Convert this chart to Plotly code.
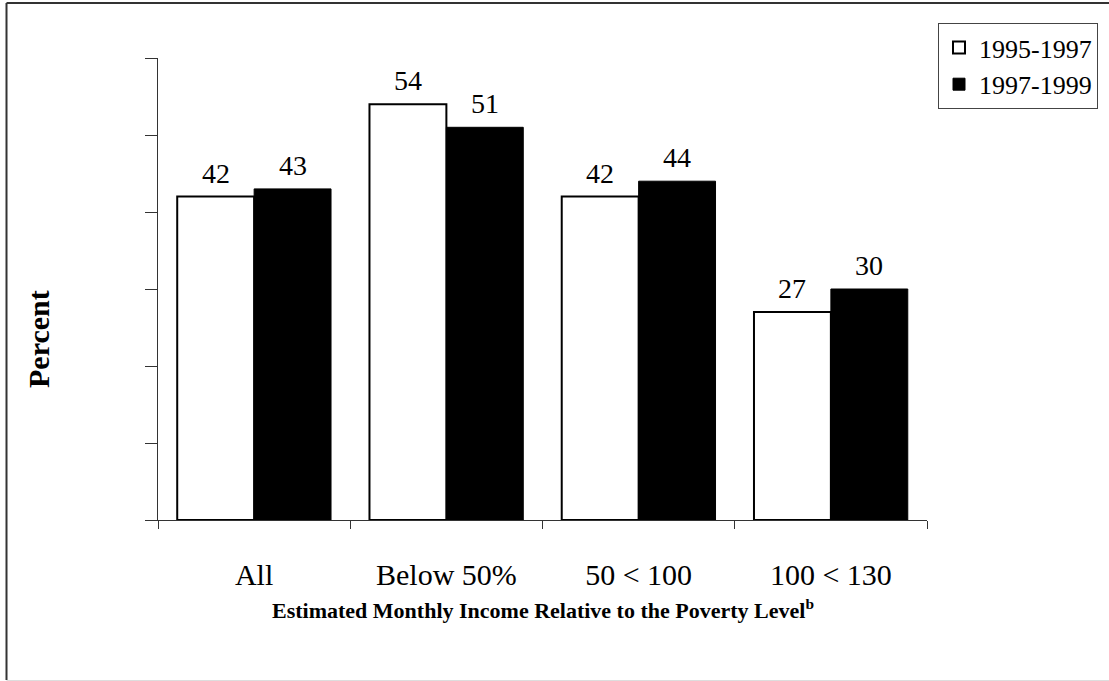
import plotly.graph_objects as go

# Income groups and percent values for each period
categories = ["All", "Below 50%", "50 < 100", "100 < 130"]
series_names = ["1995-1997", "1997-1999"]
values_1995_1997 = [42, 54, 42, 27]
values_1997_1999 = [43, 51, 44, 30]
y_ticks = [0, 10, 20, 30, 40, 50, 60]

W, H = 1109, 681
L, R, T, B = 158, 182, 58, 161
plot_w = W - L - R
plot_h = H - T - B

FONT = "Liberation Serif, Times New Roman, serif"

fig = go.Figure()
fig.add_trace(go.Bar(
    name=series_names[0], x=categories, y=values_1995_1997,
    marker=dict(color="white", line=dict(color="black", width=2)),
    legendgroup="a",
))
fig.add_trace(go.Bar(
    name=series_names[1], x=categories, y=values_1997_1999,
    marker=dict(color="black", line=dict(color="black", width=1)),
    legendgroup="b",
))

annotations = []
# value labels above each bar
for i, (a, b) in enumerate(zip(values_1995_1997, values_1997_1999)):
    for val, off in ((a, -0.2), (b, 0.2)):
        annotations.append(dict(
            x=i + off, y=val, xref="x", yref="y", text=str(val),
            showarrow=False, yanchor="bottom", yshift=6,
            font=dict(family=FONT, size=28, color="black"),
        ))

# axis titles
annotations.append(dict(
    x=0.5, y=(520 - 609) / plot_h, xref="paper", yref="paper",
    text="<b>Estimated Monthly Income Relative to the Poverty Level<sup>b</sup></b>",
    showarrow=False, xanchor="center", yanchor="middle",
    font=dict(family=FONT, size=22, color="black"),
))
annotations.append(dict(
    x=(38 - L) / plot_w, y=(520 - 339) / plot_h, xref="paper", yref="paper",
    text="<b>Percent</b>", textangle=-90,
    showarrow=False, xanchor="center", yanchor="middle",
    font=dict(family=FONT, size=30, color="black"),
))

# outer frame around the whole chart
def px_x(p):
    return (p - L) / plot_w

def px_y(p):
    return (H - B - p) / plot_h

shapes = [
    dict(type="line", xref="paper", yref="paper",
         x0=px_x(6.5), x1=px_x(1115), y0=px_y(3), y1=px_y(3),
         line=dict(color="#333333", width=2)),
    dict(type="line", xref="paper", yref="paper",
         x0=px_x(6.5), x1=px_x(6.5), y0=px_y(3), y1=px_y(680),
         line=dict(color="#333333", width=2)),
    dict(type="line", xref="paper", yref="paper",
         x0=px_x(6.5), x1=px_x(1115), y0=px_y(680.5), y1=px_y(680.5),
         line=dict(color="#dddddd", width=1)),
]

fig.update_layout(
    width=W, height=H,
    margin=dict(l=L, r=R, t=T, b=B, pad=0, autoexpand=False),
    paper_bgcolor="white", plot_bgcolor="white",
    barmode="group", bargap=0.2, bargroupgap=0,
    font=dict(family=FONT, size=26, color="black"),
    showlegend=True,
    legend=dict(
        x=px_x(938), y=px_y(23), xanchor="left", yanchor="top",
        bordercolor="#444444", borderwidth=1, bgcolor="white",
        font=dict(family=FONT, size=26, color="black"),
        tracegroupgap=0, itemwidth=30,
    ),
    xaxis=dict(
        showline=True, linecolor="#333333", linewidth=1,
        ticks="outside", tickson="boundaries", ticklen=8,
        tickcolor="#333333", tickwidth=1,
        showgrid=False, zeroline=False,
        tickfont=dict(family=FONT, size=30, color="black"),
        ticklabelstandoff=28,
    ),
    yaxis=dict(
        range=[0, 60], tickvals=y_ticks, showticklabels=False,
        showline=True, linecolor="#333333", linewidth=1,
        ticks="outside", ticklen=12, tickcolor="#333333", tickwidth=1,
        showgrid=False, zeroline=False,
    ),
    annotations=annotations,
    shapes=shapes,
)

fig.write_html("out.html")
